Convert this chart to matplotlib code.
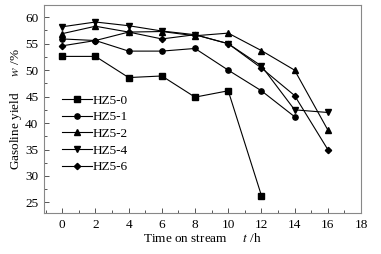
import numpy as np
import matplotlib as mpl
import matplotlib.pyplot as plt
from matplotlib.ticker import MultipleLocator

plt.rcParams.update({
    'font.family': 'Liberation Serif',
    'mathtext.fontset': 'stix',
    'font.size': 9.5,
})

# data
t = [0, 2, 4, 6, 8, 10, 12, 14, 16]
hz5_0 = [52.6, 52.6, 48.6, 48.9, 44.9, 46.1, 26.3]
hz5_1 = [55.9, 55.6, 53.6, 53.6, 54.1, 50.0, 46.1, 41.2]
hz5_2 = [56.9, 58.3, 57.2, 57.3, 56.5, 57.0, 53.7, 50.0, 38.7]
hz5_4 = [58.2, 59.1, 58.4, 57.4, 56.7, 55.0, 50.8, 42.5, 42.0]
hz5_6 = [54.6, 55.6, 57.2, 55.9, 56.7, 55.0, 50.4, 45.2, 35.0]

series = [("HZ5-0", hz5_0, "s"), ("HZ5-1", hz5_1, "o"), ("HZ5-2", hz5_2, "^"),
          ("HZ5-4", hz5_4, "v"), ("HZ5-6", hz5_6, "D")]

fig = plt.figure(figsize=(3.81, 2.54), dpi=100)
ax = fig.add_axes([0.1155, 0.1614, 0.832, 0.8186])

for name, vals, mk in series:
    ms = 3.2 if mk == "D" else 3.8
    ax.plot(t[:len(vals)], vals, color="black", lw=0.8, marker=mk, ms=ms, label=name)

ax.set_xlim(-1.1, 18)
ax.set_ylim(23, 62.3)
ax.xaxis.set_major_locator(MultipleLocator(2))
ax.xaxis.set_minor_locator(MultipleLocator(1))
ax.yaxis.set_major_locator(MultipleLocator(5))
ax.yaxis.set_minor_locator(MultipleLocator(2.5))
ax.tick_params(which="both", direction="in", top=False, right=False, color="#555555")
ax.tick_params(which="major", length=3.5, width=0.7, pad=4)
ax.tick_params(which="minor", length=2, width=0.7)
for sp in ax.spines.values():
    sp.set_color("#888888")
    sp.set_linewidth(0.8)

ax.set_xlabel("Time on stream     $t$ /h", labelpad=1)
ax.set_ylabel("Gasoline yield     $w$ /%", labelpad=1)

leg = ax.legend(loc="upper left", bbox_to_anchor=(0.04, 0.595), frameon=False,
                handlelength=2.3, handletextpad=0.0, labelspacing=0.33,
                borderaxespad=0.0, fontsize=9.5)

fig.savefig("out.png", dpi=100)
